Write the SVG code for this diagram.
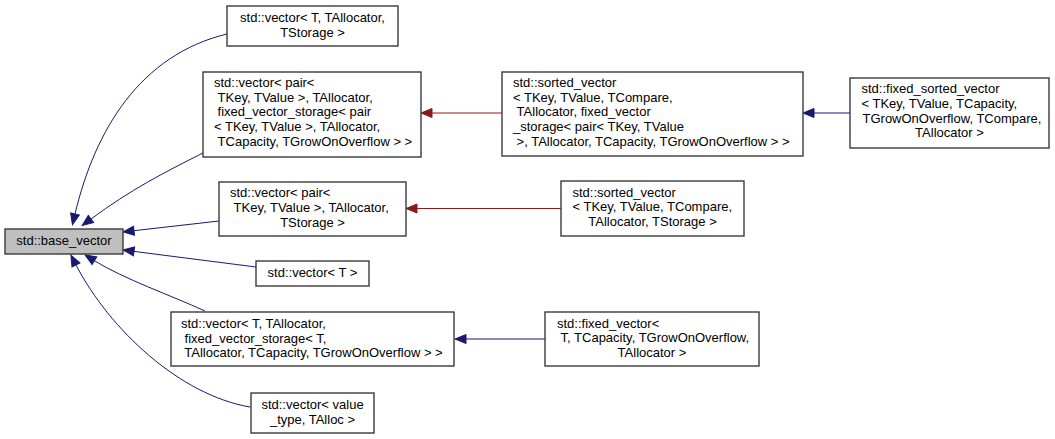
<svg xmlns="http://www.w3.org/2000/svg" width="1055" height="439" viewBox="0 0 1055 439">
<style>
  .box { fill: #ffffff; stroke: #3a3a3a; stroke-width: 1.4; }
  .root { fill: #bfbfbf; }
  text { font-family: "Liberation Sans", Arial, sans-serif; font-size: 13px; fill: #000000; }
  .c { text-anchor: middle; }
  .eb { fill: none; stroke: #191970; stroke-width: 1; marker-end: url(#ab); }
  .er { fill: none; stroke: #8b1a1a; stroke-width: 1; marker-end: url(#ar); }
</style>
<defs>
  <marker id="ab" markerUnits="userSpaceOnUse" markerWidth="12" markerHeight="10" refX="0" refY="4.5" orient="auto" overflow="visible">
    <path d="M0,0 L11,4.5 L0,9 z" fill="#191970" stroke="#191970" stroke-width="1"/>
  </marker>
  <marker id="ar" markerUnits="userSpaceOnUse" markerWidth="12" markerHeight="10" refX="0" refY="4.5" orient="auto" overflow="visible">
    <path d="M0,0 L11,4.5 L0,9 z" fill="#8b1a1a" stroke="#8b1a1a" stroke-width="1"/>
  </marker>
</defs>
<rect x="0" y="0" width="1055" height="439" fill="#ffffff"/>

<g id="edges">
  <path class="eb" d="M227,34 C140,55 95,130 75,214"/>
  <path class="eb" d="M203,153 C165,172 130,190 91,219"/>
  <path class="eb" d="M219,221 L134,230.7"/>
  <path class="eb" d="M256,267 L134,251.4"/>
  <path class="eb" d="M205,311 C170,295 124,279 94.4,260.7"/>
  <path class="eb" d="M250,407 C180,395 110,330 76,265"/>
  <path class="er" d="M502,113 L432,113"/>
  <path class="eb" d="M850,113 L814,113"/>
  <path class="er" d="M561,208.5 L417,208.5"/>
  <path class="eb" d="M545,339 L466,339"/>
</g>

<g id="base_vector">
  <rect class="box root" x="5" y="229" width="118" height="25"/>
  <text class="c" x="64" y="244.5">std::base_vector</text>
</g>

<g id="vector_T_TAllocator_TStorage">
  <rect class="box" x="227" y="6" width="171" height="40"/>
  <text class="c" x="312.5" y="22">std::vector&lt; T, TAllocator,</text>
  <text class="c" x="312.5" y="36.7">TStorage &gt;</text>
</g>

<g id="vector_pair_fixed_storage">
  <rect class="box" x="203" y="72" width="218" height="85"/>
  <text x="214" y="87">std::vector&lt; pair&lt;</text>
  <text x="217.6" y="101.7">TKey, TValue &gt;, TAllocator,</text>
  <text x="217.6" y="116.4">fixed_vector_storage&lt; pair</text>
  <text x="214" y="131.1">&lt; TKey, TValue &gt;, TAllocator,</text>
  <text x="217.6" y="145.8">TCapacity, TGrowOnOverflow &gt; &gt;</text>
</g>

<g id="vector_pair_TStorage">
  <rect class="box" x="219" y="182" width="187" height="54"/>
  <text x="230" y="197.3">std::vector&lt; pair&lt;</text>
  <text x="233.6" y="212">TKey, TValue &gt;, TAllocator,</text>
  <text class="c" x="312.5" y="226.7">TStorage &gt;</text>
</g>

<g id="vector_T">
  <rect class="box" x="256" y="261" width="113" height="25"/>
  <text class="c" x="312.5" y="276.5">std::vector&lt; T &gt;</text>
</g>

<g id="vector_T_fixed_storage">
  <rect class="box" x="171" y="312" width="283" height="54"/>
  <text x="181" y="328">std::vector&lt; T, TAllocator,</text>
  <text x="184.6" y="342.7">fixed_vector_storage&lt; T,</text>
  <text x="184.3" y="357.4">TAllocator, TCapacity, TGrowOnOverflow &gt; &gt;</text>
</g>

<g id="vector_value_type">
  <rect class="box" x="251" y="393" width="123" height="40"/>
  <text class="c" x="312.5" y="409">std::vector&lt; value</text>
  <text class="c" x="312.5" y="423.7">_type, TAlloc &gt;</text>
</g>

<g id="sorted_vector_fixed">
  <rect class="box" x="502" y="72" width="301" height="84"/>
  <text x="513" y="87">std::sorted_vector</text>
  <text x="513" y="101.7">&lt; TKey, TValue, TCompare,</text>
  <text x="516.6" y="116.4">TAllocator, fixed_vector</text>
  <text x="513" y="131.1">_storage&lt; pair&lt; TKey, TValue</text>
  <text x="516.6" y="145.8">&gt;, TAllocator, TCapacity, TGrowOnOverflow &gt; &gt;</text>
</g>

<g id="sorted_vector_TStorage">
  <rect class="box" x="561" y="181" width="183" height="55"/>
  <text x="572.5" y="196.7">std::sorted_vector</text>
  <text x="572.5" y="211.4">&lt; TKey, TValue, TCompare,</text>
  <text class="c" x="652.5" y="226.1">TAllocator, TStorage &gt;</text>
</g>

<g id="fixed_sorted_vector">
  <rect class="box" x="850" y="78" width="199" height="70"/>
  <text x="861.5" y="93.3">std::fixed_sorted_vector</text>
  <text x="861.5" y="108">&lt; TKey, TValue, TCapacity,</text>
  <text x="862.5" y="122.7">TGrowOnOverflow, TCompare,</text>
  <text class="c" x="949.5" y="137.4">TAllocator &gt;</text>
</g>

<g id="fixed_vector">
  <rect class="box" x="545" y="312" width="214" height="54"/>
  <text x="557" y="327.5">std::fixed_vector&lt;</text>
  <text x="560.6" y="342.2">T, TCapacity, TGrowOnOverflow,</text>
  <text class="c" x="652" y="356.9">TAllocator &gt;</text>
</g>
</svg>
